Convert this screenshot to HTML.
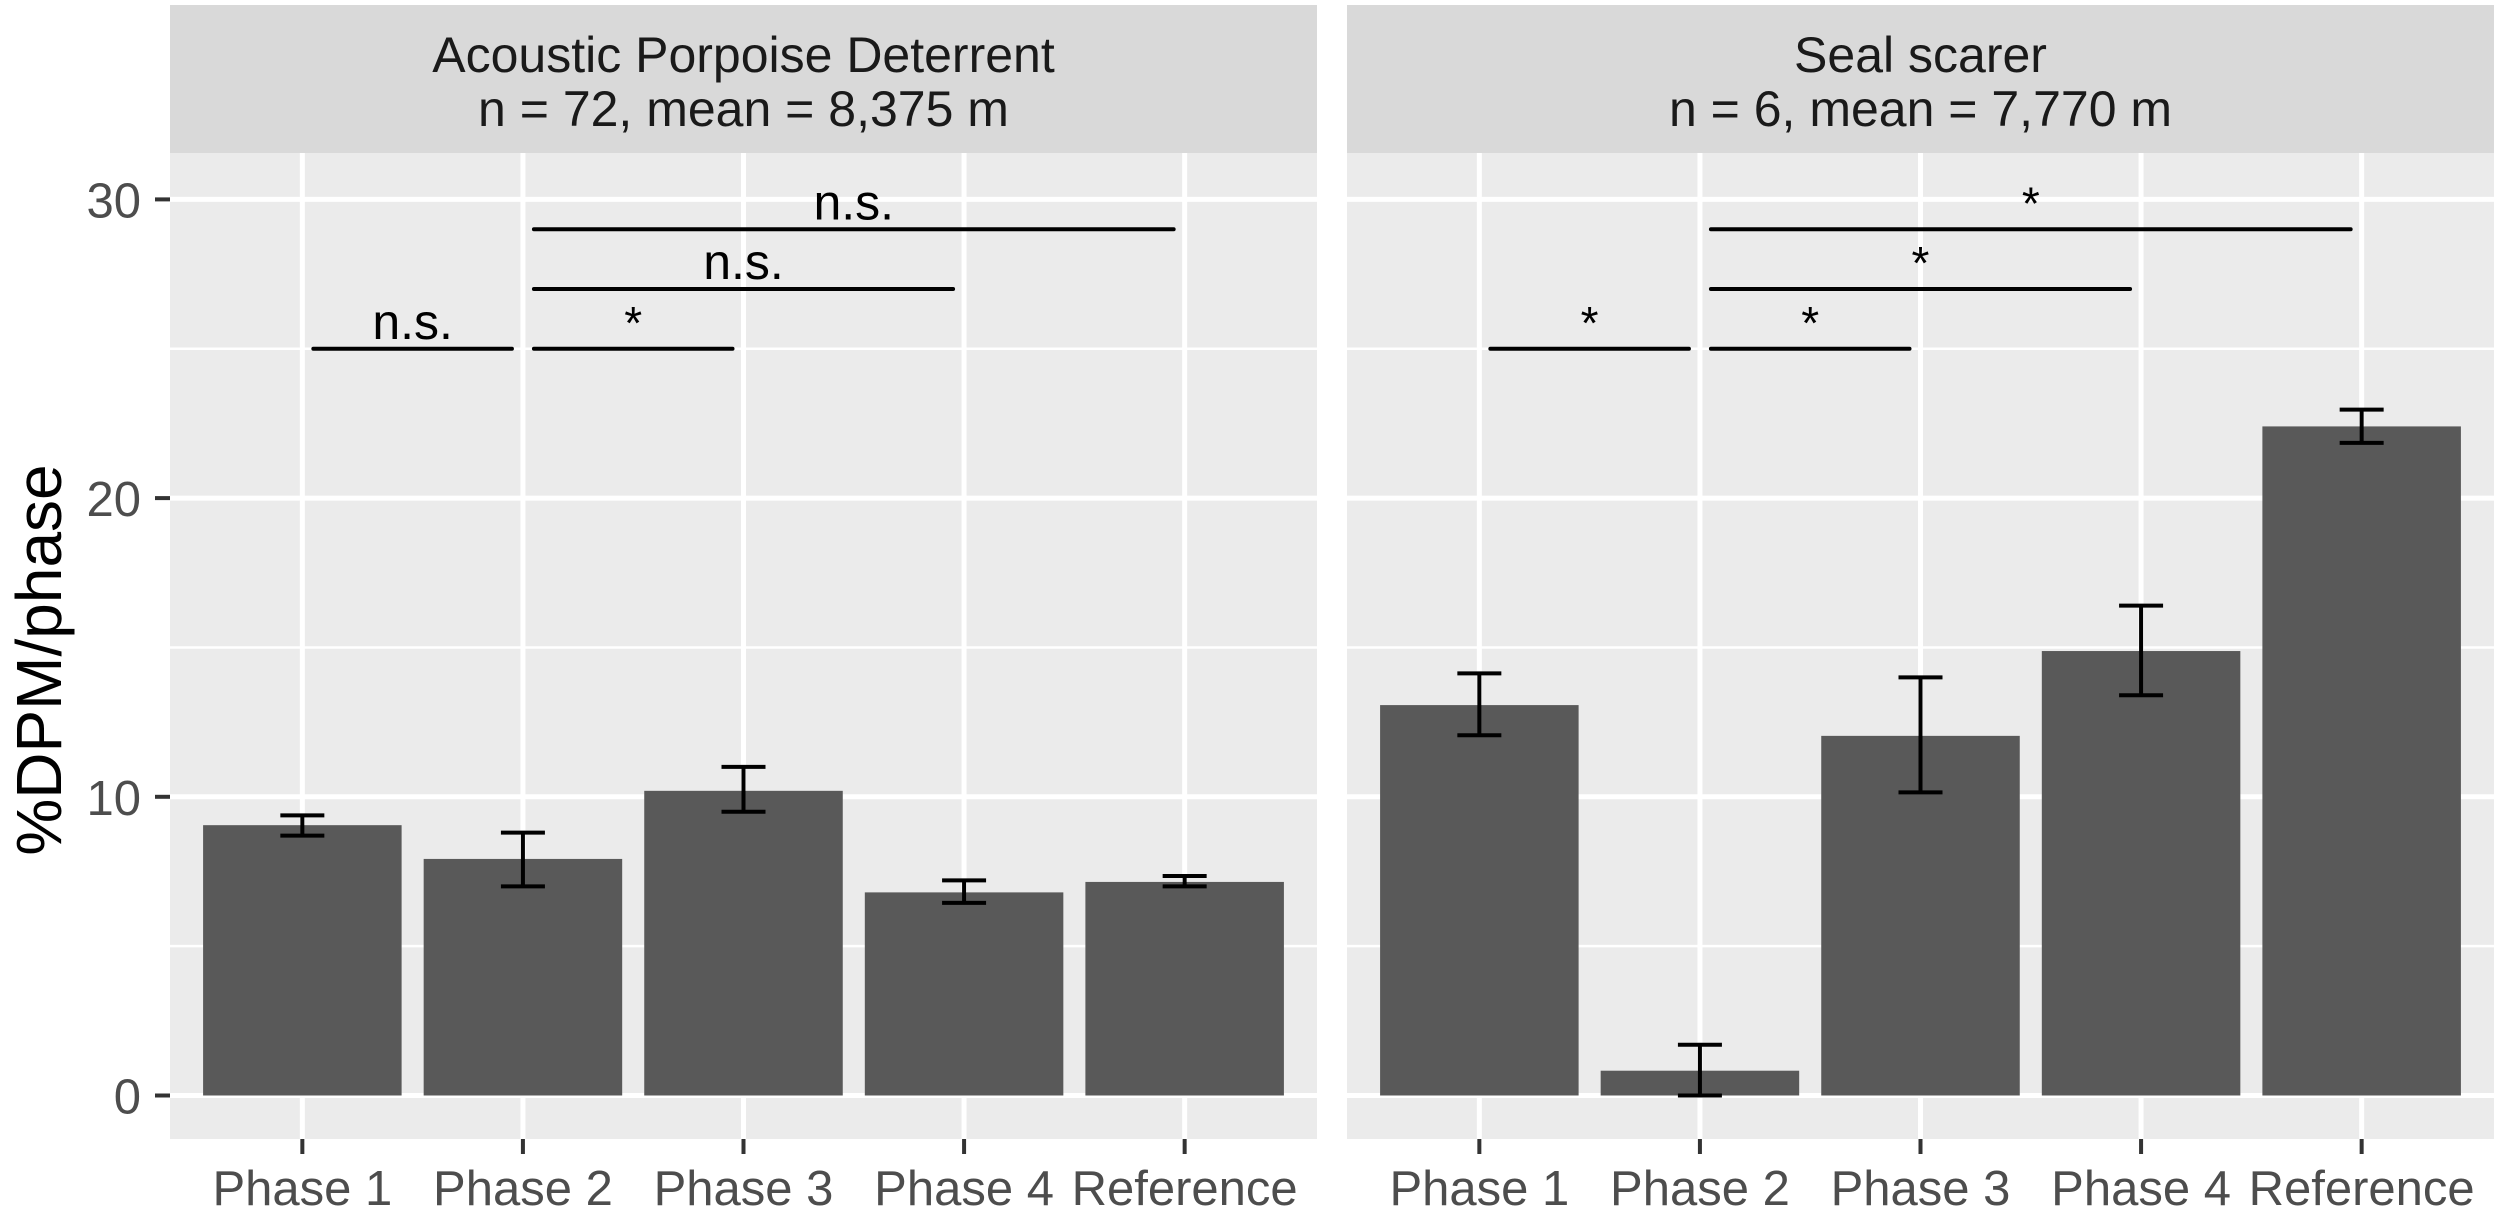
<!DOCTYPE html>
<html><head><meta charset="utf-8"><style>
html,body{margin:0;padding:0;background:#fff;}
svg{display:block;font-family:"Liberation Sans",Arial,sans-serif;}
</style></head><body>
<svg id="chart" width="2500" height="1212" viewBox="0 0 2500 1212" xmlns="http://www.w3.org/2000/svg">
<text x="0" y="0" transform="translate(61,660) rotate(-90)" text-anchor="middle" font-size="64" fill="#000">%DPM/phase</text>
</svg>
<script>
const categories = ["Phase 1","Phase 2","Phase 3","Phase 4","Reference"];
const panelTitles = ["Acoustic Porpoise Deterrent","Seal scarer"];
const panelSubtitles = ["n = 72, mean = 8,375 m","n = 6, mean = 7,770 m"];
const valuesAPD = [9.05, 7.92, 10.2, 6.8, 7.15];
const lowerAPD = [8.7, 7.0, 9.5, 6.45, 7.0];
const upperAPD = [9.38, 8.8, 11.0, 7.2, 7.35];
const valuesSeal = [13.07, 0.83, 12.04, 14.88, 22.4];
const lowerSeal = [12.06, 0.0, 10.15, 13.4, 21.85];
const upperSeal = [14.13, 1.7, 14.0, 16.4, 22.96];
const yTicks = [0, 10, 20, 30];
const yMinor = [5, 15, 25];
const sigFrom = [0, 1, 1, 1];
const sigTo = [1, 2, 3, 4];
const sigLevel = [25, 25, 27, 29];
const sigAPD = ["n.s.", "*", "n.s.", "n.s."];
const sigSeal = ["*", "*", "*", "*"];

const NS = "http://www.w3.org/2000/svg";
const svg = document.getElementById('chart');
function mk(tag, attrs, parent){
  const e = document.createElementNS(NS, tag);
  for (const k in attrs) e.setAttribute(k, attrs[k]);
  (parent||svg).appendChild(e);
  return e;
}
const panelTop = 153, panelBottom = 1139, panelW = 1147;
const panelX = [170, 1347];
const y0 = 1095.5, yPer = 29.87;
function yScale(v){ return y0 - v*yPer; }
const step = panelW/5.2;
function xScale(p, i){ return panelX[p] + step*(0.6 + i); }
const series = [
  {v:valuesAPD, lo:lowerAPD, hi:upperAPD, sig:sigAPD},
  {v:valuesSeal, lo:lowerSeal, hi:upperSeal, sig:sigSeal}
];

for (let p=0;p<2;p++){
  const g = mk('g', {});
  
  
  const x0 = panelX[p];
  const strip = mk('rect', {x:x0, y:5, width:panelW, height:148, fill:'#D9D9D9'}, g);
  
  
  const t1 = mk('text', {x:x0+panelW/2, y:72, 'text-anchor':'middle', 'font-size':50, fill:'#1A1A1A'}, g);
  t1.textContent = panelTitles[p];
  
  
  const t2 = mk('text', {x:x0+panelW/2, y:126, 'text-anchor':'middle', 'font-size':50, fill:'#1A1A1A'}, g);
  t2.textContent = panelSubtitles[p];
  
  
  const bg = mk('rect', {x:x0, y:panelTop, width:panelW, height:panelBottom-panelTop, fill:'#EBEBEB'}, g);
  
  
  yMinor.forEach(v=>{
    const l = mk('line', {x1:x0, x2:x0+panelW, y1:yScale(v), y2:yScale(v), stroke:'#fff', 'stroke-width':2.5}, g);
    
    
  });
  yTicks.forEach(v=>{
    const l = mk('line', {x1:x0, x2:x0+panelW, y1:yScale(v), y2:yScale(v), stroke:'#fff', 'stroke-width':5}, g);
    
    
  });
  categories.forEach((c,i)=>{
    const l = mk('line', {x1:xScale(p,i), x2:xScale(p,i), y1:panelTop, y2:panelBottom, stroke:'#fff', 'stroke-width':5}, g);
    
    
  });
  const s = series[p];
  const bw = step*0.9;
  categories.forEach((c,i)=>{
    const cx = xScale(p,i);
    const b = mk('rect', {x:cx-bw/2, y:yScale(s.v[i]), width:bw, height:yScale(0)-yScale(s.v[i]), fill:'#595959'}, g);
    
    
  });
  categories.forEach((c,i)=>{
    const cx = xScale(p,i), hw = 22;
    const e = mk('path', {d:`M${cx-hw},${yScale(s.hi[i])}H${cx+hw}M${cx},${yScale(s.hi[i])}V${yScale(s.lo[i])}M${cx-hw},${yScale(s.lo[i])}H${cx+hw}`, stroke:'#000', 'stroke-width':4, fill:'none'}, g);
    
    
  });
  sigFrom.forEach((f,k)=>{
    const xa = xScale(p,f)+11, xb = xScale(p,sigTo[k])-11, yy = yScale(sigLevel[k]);
    const l = mk('line', {x1:xa, x2:xb, y1:yy, y2:yy, stroke:'#000', 'stroke-width':4, 'stroke-linecap':'round'}, g);
    
    
    const lab = s.sig[k];
    const t = mk('text', {x:(xa+xb)/2, y: lab==='*' ? yy-10 : yy-10, 'text-anchor':'middle', 'font-size':lab==='*' ? 46 : 50, fill:'#000'}, g);
    t.textContent = lab;
    
    
  });
  categories.forEach((c,i)=>{
    const cx = xScale(p,i);
    const tk = mk('line', {x1:cx, x2:cx, y1:panelBottom, y2:panelBottom+15, stroke:'#333', 'stroke-width':4}, g);
    
    
    const t = mk('text', {x:cx, y:1205, 'text-anchor':'middle', 'font-size':49, fill:'#4D4D4D'}, g);
    t.textContent = c;
    
    
  });
}
yTicks.forEach(v=>{
  const tk = mk('line', {x1:155, x2:170, y1:yScale(v), y2:yScale(v), stroke:'#333', 'stroke-width':4});
  
  
  const t = mk('text', {x:141, y:yScale(v)+18, 'text-anchor':'end', 'font-size':49, fill:'#4D4D4D'});
  t.textContent = v;
  
  
});
</script>
</body></html>
